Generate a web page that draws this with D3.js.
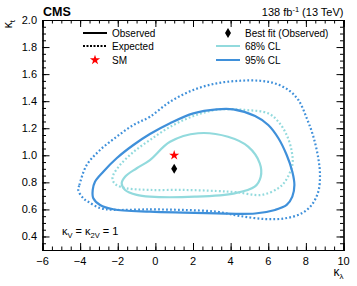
<!DOCTYPE html>
<html>
<head>
<meta charset="utf-8">
<script src="https://cdn.jsdelivr.net/npm/d3@7"></script>
<style>
	body { margin: 0; background: #fff; }
	svg { font-family: 'Liberation Sans', Arial, sans-serif; }
</style>
</head>
<body>
<div id="chart"></div>
<script>
// contour points [kappa_lambda, kappa_t]
const exp95 = [
	[-4.1, 0.744], [-4.04, 0.78], [-3.65, 0.928], [-2.94, 1.039], [-2.06, 1.137], [-1.17, 1.224],
	[-0.29, 1.285], [0.78, 1.396], [2.02, 1.483], [3.26, 1.532], [4.5, 1.551], [5.56, 1.551],
	[6.34, 1.532], [7.07, 1.483], [7.6, 1.409], [8.05, 1.273], [8.4, 1.137], [8.66, 0.978],
	[8.75, 0.854], [8.66, 0.731], [8.31, 0.633], [7.78, 0.571], [6.89, 0.534], [5.83, 0.529],
	[4.5, 0.551], [3.26, 0.583], [1.49, 0.596], [-0.29, 0.6], [-2.24, 0.597], [-2.94, 0.61],
	[-3.57, 0.657], [-3.83, 0.682]
];
const obs95 = [
	[-3.33, 0.744], [-3.21, 0.805], [-2.77, 0.879], [-2.06, 0.978], [-1.17, 1.076], [-0.29, 1.157],
	[0.78, 1.237], [2.02, 1.31], [3.26, 1.34], [4.14, 1.34], [5.3, 1.29], [6.0, 1.224],
	[6.54, 1.126], [6.98, 1.002], [7.28, 0.879], [7.39, 0.78], [7.28, 0.694], [6.98, 0.633],
	[6.36, 0.596], [5.3, 0.57], [3.26, 0.571], [1.49, 0.576], [-0.29, 0.583], [-2.24, 0.601],
	[-2.94, 0.633], [-3.3, 0.682]
];
const exp68 = [
	[-2.27, 0.817], [-2.24, 0.854], [-1.88, 0.928], [-1.17, 1.024], [-0.29, 1.113], [0.78, 1.21],
	[2.02, 1.29], [3.33, 1.338], [4.75, 1.335], [6.0, 1.31], [6.54, 1.248], [6.98, 1.15],
	[7.25, 1.027], [7.28, 0.928], [6.89, 0.805], [6.52, 0.756], [5.63, 0.707], [4.32, 0.727],
	[3.26, 0.736], [1.49, 0.744], [-0.29, 0.744], [-1.52, 0.756], [-2.06, 0.78]
];
const obs68 = [
	[-1.79, 0.793], [-1.61, 0.842], [-0.99, 0.904], [-0.29, 0.965], [0.78, 1.1], [2.27, 1.163],
	[3.86, 1.137], [4.93, 1.064], [5.55, 0.941], [5.6, 0.842], [5.28, 0.768], [4.22, 0.719],
	[2.09, 0.694], [-0.29, 0.694], [-0.99, 0.707], [-1.61, 0.744]
];
const bestFit = [1.0, 0.9];
const smPoint = [1.0, 1.0];
const xTicks = [-6, -4, -2, 0, 2, 4, 6, 8, 10];
const yTicks = [0.4, 0.6, 0.8, 1.0, 1.2, 1.4, 1.6, 1.8, 2.0];

const width = 357, height = 286;
const margin = { left: 42.5, right: 13.5, top: 20, bottom: 36 };
const blue = '#3f90da', cyan = '#92dadd';

const svg = d3.select('#chart').append('svg').attr('width', width).attr('height', height);

const x = d3.scaleLinear().domain([-6, 10]).range([margin.left, width - margin.right]);
const y = d3.scaleLinear().domain([0.3, 2.0]).range([height - margin.bottom, margin.top]);

const minorX = d3.range(-6, 10.001, 0.5);
const minorY = d3.range(0.3, 2.0001, 0.05);
const fmtY = d3.format('.1f');
const fmtX = (d) => (d < 0 ? '\u2212' + Math.abs(d) : d);

// axes, ticks pointing inward
const axB = svg.append('g').attr('transform', `translate(0,${y.range()[0]})`);
axB.call(d3.axisTop(x).tickValues(minorX).tickSize(3.5).tickFormat(''));
axB.append('g').call(d3.axisTop(x).tickValues(xTicks).tickSize(7).tickFormat(''));
const axT = svg.append('g').attr('transform', `translate(0,${margin.top})`);
axT.call(d3.axisBottom(x).tickValues(minorX).tickSize(3.5).tickFormat(''));
axT.append('g').call(d3.axisBottom(x).tickValues(xTicks).tickSize(7).tickFormat(''));
const axL = svg.append('g').attr('transform', `translate(${margin.left},0)`);
axL.call(d3.axisRight(y).tickValues(minorY).tickSize(3.5).tickFormat(''));
axL.append('g').call(d3.axisRight(y).tickValues(yTicks).tickSize(7).tickFormat(''));
const axR = svg.append('g').attr('transform', `translate(${width - margin.right},0)`);
axR.call(d3.axisLeft(y).tickValues(minorY).tickSize(3.5).tickFormat(''));
axR.append('g').call(d3.axisLeft(y).tickValues(yTicks).tickSize(7).tickFormat(''));
svg.selectAll('.domain').attr('stroke', '#000').attr('stroke-width', 1.2);
svg.selectAll('.tick line').attr('stroke', '#000').attr('stroke-width', 1);

// tick labels
svg.append('g').selectAll('text').data(xTicks).enter().append('text')
	.attr('x', (d) => x(d)).attr('y', 265).attr('text-anchor', 'middle')
	.attr('font-size', 11).text(fmtX);
svg.append('g').selectAll('text').data(yTicks).enter().append('text')
	.attr('x', 37).attr('y', (d) => y(d) + 4).attr('text-anchor', 'end')
	.attr('font-size', 11).text(fmtY);

// contours
const line = d3.line().x((d) => x(d[0])).y((d) => y(d[1])).curve(d3.curveCatmullRomClosed.alpha(0.5));
const contours = [
	{ pts: exp95, color: blue, dash: '1.8,2.2' },
	{ pts: exp68, color: cyan, dash: '1.8,2.2' },
	{ pts: obs95, color: blue, dash: null },
	{ pts: obs68, color: cyan, dash: null }
];
svg.append('g').selectAll('path').data(contours).enter().append('path')
	.attr('d', (d) => line(d.pts))
	.attr('fill', 'none')
	.attr('stroke', (d) => d.color)
	.attr('stroke-width', 2.2)
	.attr('stroke-dasharray', (d) => d.dash);

// markers
const star = d3.symbol().type(d3.symbolStar).size(32);
const diamond = 'M0,-5 L3,0 L0,5 L-3,0 Z';
svg.append('path').attr('d', star()).attr('fill', '#f00')
	.attr('transform', `translate(${x(smPoint[0])},${y(smPoint[1])})`);
svg.append('path').attr('d', diamond).attr('fill', '#000')
	.attr('transform', `translate(${x(bestFit[0])},${y(bestFit[1])})`);

// legend
const leg = svg.append('g').attr('font-size', 10);
leg.append('line').attr('x1', 83).attr('x2', 107).attr('y1', 33).attr('y2', 33).attr('stroke', '#000').attr('stroke-width', 2);
leg.append('text').attr('x', 112).attr('y', 37).text('Observed');
leg.append('line').attr('x1', 83).attr('x2', 107).attr('y1', 46).attr('y2', 46).attr('stroke', '#000').attr('stroke-width', 2).attr('stroke-dasharray', '2,1.5');
leg.append('text').attr('x', 112).attr('y', 50).text('Expected');
leg.append('path').attr('d', star()).attr('fill', '#f00').attr('transform', 'translate(95,60)');
leg.append('text').attr('x', 112).attr('y', 64).text('SM');
leg.append('path').attr('d', diamond).attr('fill', '#000').attr('transform', 'translate(228,33)');
leg.append('text').attr('x', 245).attr('y', 37).text('Best fit (Observed)');
leg.append('line').attr('x1', 216).attr('x2', 240).attr('y1', 46).attr('y2', 46).attr('stroke', cyan).attr('stroke-width', 2);
leg.append('text').attr('x', 245).attr('y', 50).text('68% CL');
leg.append('line').attr('x1', 216).attr('x2', 240).attr('y1', 60).attr('y2', 60).attr('stroke', blue).attr('stroke-width', 2);
leg.append('text').attr('x', 245).attr('y', 64).text('95% CL');

// header
svg.append('text').attr('x', 43).attr('y', 16).attr('font-size', 12.5).attr('font-weight', 'bold').text('CMS');
const lumi = svg.append('text').attr('x', width - margin.right).attr('y', 16).attr('font-size', 11).attr('text-anchor', 'end');
lumi.append('tspan').text('138 fb');
lumi.append('tspan').attr('dy', -4).attr('font-size', 7.5).text('-1');
lumi.append('tspan').attr('dy', 4).text(' (13 TeV)');

// axis titles
const xt = svg.append('text').attr('x', width - margin.right).attr('y', 276).attr('text-anchor', 'end').attr('font-size', 12);
xt.append('tspan').text('\u03ba');
xt.append('tspan').attr('dy', 3).attr('font-size', 8).text('\u03bb');
const yt = svg.append('text').attr('transform', `translate(12,${margin.top}) rotate(-90)`).attr('text-anchor', 'end').attr('font-size', 12);
yt.append('tspan').text('\u03ba');
yt.append('tspan').attr('dy', 3).attr('font-size', 8).text('t');

// coupling note
const note = svg.append('text').attr('x', 62).attr('y', 235).attr('font-size', 11);
note.append('tspan').text('\u03ba');
note.append('tspan').attr('dy', 2.5).attr('font-size', 7.5).text('V');
note.append('tspan').attr('dy', -2.5).text(' = \u03ba');
note.append('tspan').attr('dy', 2.5).attr('font-size', 7.5).text('2V');
note.append('tspan').attr('dy', -2.5).text(' = 1');
</script>
</body>
</html>
